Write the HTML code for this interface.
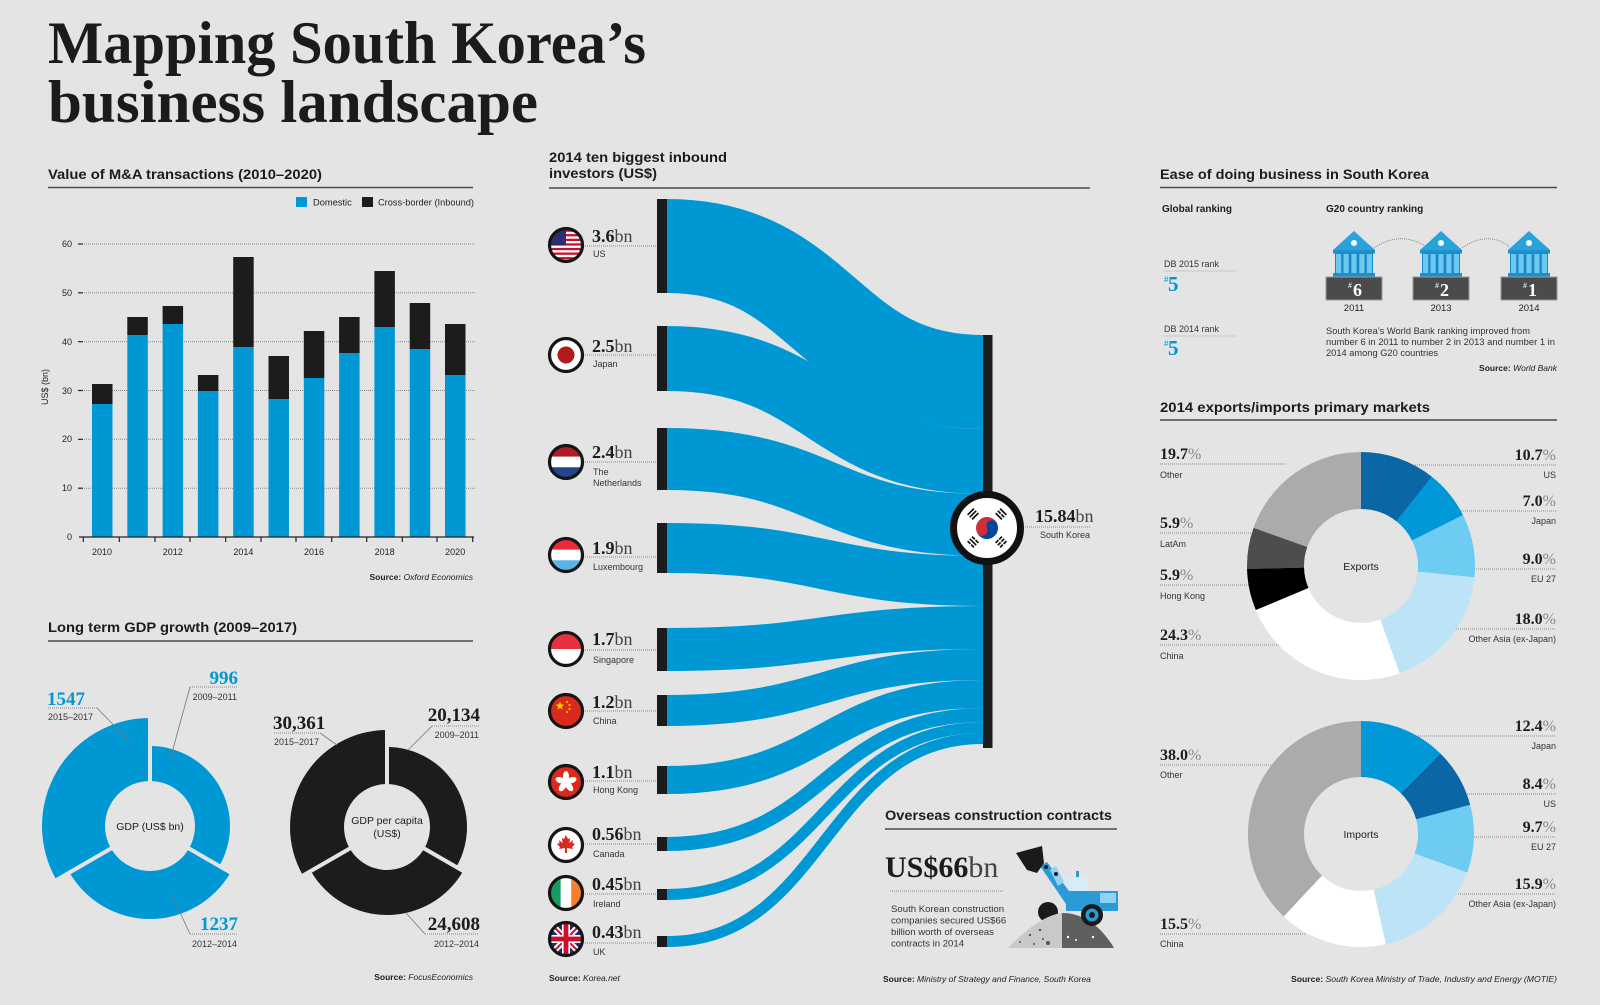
<!DOCTYPE html>
<html><head><meta charset="utf-8"><title>Mapping South Korea's business landscape</title>
<style>
html,body{margin:0;padding:0;background:#e4e4e4;}
svg{display:block;}
text{font-family:"Liberation Sans",Arial,sans-serif;}
.sf,.sf text,text.sf{font-family:"Liberation Serif","Times New Roman",serif;}
.h{font-weight:700;font-size:14px;fill:#1c1c1c;}
.s{font-size:9px;fill:#333;}
.src{font-size:8.5px;fill:#222;}
.dot{stroke:#8a8a8a;stroke-width:1;stroke-dasharray:1 1;fill:none;}
.ld{stroke:#777;stroke-width:0.8;fill:none;}
</style></head>
<body>
<svg xmlns="http://www.w3.org/2000/svg" width="1600" height="1005" viewBox="0 0 1600 1005">
<defs><clipPath id="fc"><circle cx="0" cy="0" r="15.5"/></clipPath></defs>
<rect width="1600" height="1005" fill="#e4e4e4"/>

<!-- TITLE -->
<text class="sf" x="48" y="63" font-size="60" font-weight="700" fill="#1b1b1b" textLength="598" lengthAdjust="spacingAndGlyphs">Mapping South Korea’s</text>
<text class="sf" x="48" y="122" font-size="60" font-weight="700" fill="#1b1b1b" textLength="490" lengthAdjust="spacingAndGlyphs">business landscape</text>

<!-- M&A -->
<text class="h" x="48" y="179" textLength="274" lengthAdjust="spacingAndGlyphs">Value of M&amp;A transactions (2010–2020)</text>
<line x1="48" y1="187.5" x2="473" y2="187.5" stroke="#4a4a4a" stroke-width="1.5"/>
<rect x="296" y="197" width="11" height="10" fill="#0098d4"/>
<text x="313" y="205.5" font-size="9.3" fill="#222">Domestic</text>
<rect x="362" y="197" width="11" height="10" fill="#1c1c1c"/>
<text x="378" y="205.5" font-size="9.3" fill="#222" textLength="96" lengthAdjust="spacingAndGlyphs">Cross-border (Inbound)</text>
<g stroke="#8a8a8a" stroke-width="1" stroke-dasharray="1 1">
<line x1="84" y1="244" x2="475" y2="244"/><line x1="84" y1="292.8" x2="475" y2="292.8"/><line x1="84" y1="341.7" x2="475" y2="341.7"/><line x1="84" y1="390.5" x2="475" y2="390.5"/><line x1="84" y1="439.3" x2="475" y2="439.3"/><line x1="84" y1="488.2" x2="475" y2="488.2"/>
</g>
<g stroke="#222" stroke-width="1.2">
<line x1="78" y1="244" x2="83" y2="244"/><line x1="78" y1="292.8" x2="83" y2="292.8"/><line x1="78" y1="341.7" x2="83" y2="341.7"/><line x1="78" y1="390.5" x2="83" y2="390.5"/><line x1="78" y1="439.3" x2="83" y2="439.3"/><line x1="78" y1="488.2" x2="83" y2="488.2"/>
</g>
<g font-size="9" fill="#222" text-anchor="end">
<text x="72" y="247">60</text><text x="72" y="296">50</text><text x="72" y="345">40</text><text x="72" y="394">30</text><text x="72" y="442">20</text><text x="72" y="491">10</text><text x="72" y="540">0</text>
</g>
<text transform="translate(48,387) rotate(-90)" text-anchor="middle" font-size="9" fill="#222">US$ (bn)</text>
<g fill="#0098d4">
<rect x="92" y="404" width="20.5" height="133"/>
<rect x="127.3" y="335" width="20.5" height="202"/>
<rect x="162.6" y="324" width="20.5" height="213"/>
<rect x="197.9" y="391" width="20.5" height="146"/>
<rect x="233.2" y="347" width="20.5" height="190"/>
<rect x="268.5" y="399" width="20.5" height="138"/>
<rect x="303.8" y="378" width="20.5" height="159"/>
<rect x="339.1" y="353" width="20.5" height="184"/>
<rect x="374.4" y="327" width="20.5" height="210"/>
<rect x="409.7" y="349" width="20.5" height="188"/>
<rect x="445" y="375" width="20.5" height="162"/>
</g>
<g fill="#1c1c1c">
<rect x="92" y="384" width="20.5" height="20"/>
<rect x="127.3" y="317" width="20.5" height="18"/>
<rect x="162.6" y="306" width="20.5" height="18"/>
<rect x="197.9" y="375" width="20.5" height="16"/>
<rect x="233.2" y="257" width="20.5" height="90"/>
<rect x="268.5" y="356" width="20.5" height="43"/>
<rect x="303.8" y="331" width="20.5" height="47"/>
<rect x="339.1" y="317" width="20.5" height="36"/>
<rect x="374.4" y="271" width="20.5" height="56"/>
<rect x="409.7" y="303" width="20.5" height="46"/>
<rect x="445" y="324" width="20.5" height="51"/>
</g>
<line x1="79" y1="537" x2="474" y2="537" stroke="#222" stroke-width="1.2"/>
<g stroke="#222" stroke-width="1.2">
<line x1="83.3" y1="537" x2="83.3" y2="542"/><line x1="119.3" y1="537" x2="119.3" y2="542"/><line x1="155" y1="537" x2="155" y2="542"/><line x1="190" y1="537" x2="190" y2="542"/><line x1="225.7" y1="537" x2="225.7" y2="542"/><line x1="261" y1="537" x2="261" y2="542"/><line x1="296" y1="537" x2="296" y2="542"/><line x1="331.7" y1="537" x2="331.7" y2="542"/><line x1="366.7" y1="537" x2="366.7" y2="542"/><line x1="402.3" y1="537" x2="402.3" y2="542"/><line x1="437" y1="537" x2="437" y2="542"/><line x1="472.7" y1="537" x2="472.7" y2="542"/>
</g>
<g font-size="9" fill="#222" text-anchor="middle">
<text x="102" y="555">2010</text><text x="172.8" y="555">2012</text><text x="243.4" y="555">2014</text><text x="314" y="555">2016</text><text x="384.6" y="555">2018</text><text x="455.2" y="555">2020</text>
</g>
<text class="src" x="473" y="580" text-anchor="end"><tspan font-weight="700">Source:</tspan> <tspan font-style="italic">Oxford Economics</tspan></text>

<!-- GDP -->
<text class="h" x="48" y="632" textLength="249" lengthAdjust="spacingAndGlyphs">Long term GDP growth (2009–2017)</text>
<line x1="48" y1="641" x2="473" y2="641" stroke="#4a4a4a" stroke-width="1.5"/>
<g fill="#0098d4">
<path d="M150,826 L150,746 A80,80 0 0 1 219.28,866 Z"/>
<path d="M150,826 L230.54,872.5 A93,93 0 0 1 69.46,872.5 Z"/>
<path d="M150,826 L56.47,880 A108,108 0 0 1 150,718 Z"/>
</g>
<g stroke="#e4e4e4" stroke-width="4">
<line x1="150" y1="826" x2="150" y2="700"/><line x1="150" y1="826" x2="253.9" y2="886"/><line x1="150" y1="826" x2="46.1" y2="886"/>
</g>
<circle cx="150" cy="826" r="45" fill="#e4e4e4"/>
<text x="150" y="830" text-anchor="middle" font-size="10.5" fill="#1c1c1c">GDP (US$ bn)</text>
<g fill="#1c1c1c">
<path d="M387,827 L387,747 A80,80 0 0 1 456.28,867 Z"/>
<path d="M387,827 L463.21,871 A88,88 0 0 1 310.79,871 Z"/>
<path d="M387,827 L303,875.5 A97,97 0 0 1 387,730 Z"/>
</g>
<g stroke="#e4e4e4" stroke-width="4">
<line x1="387" y1="827" x2="387" y2="707"/><line x1="387" y1="827" x2="490.9" y2="887"/><line x1="387" y1="827" x2="283.1" y2="887"/>
</g>
<circle cx="387" cy="827" r="43" fill="#e4e4e4"/>
<text x="387" y="824" text-anchor="middle" font-size="10.5" fill="#1c1c1c">GDP per capita</text>
<text x="387" y="837" text-anchor="middle" font-size="10.5" fill="#1c1c1c">(US$)</text>
<line class="dot" x1="48" y1="708" x2="97" y2="708"/><line class="ld" x1="97" y1="708" x2="130" y2="742"/>
<line class="dot" x1="190" y1="687" x2="238" y2="687"/><line class="ld" x1="190" y1="687" x2="170" y2="760"/>
<line class="dot" x1="190" y1="934" x2="238" y2="934"/><line class="ld" x1="190" y1="934" x2="172" y2="895"/>
<line class="dot" x1="274" y1="733" x2="320" y2="733"/><line class="ld" x1="320" y1="733" x2="337" y2="745"/>
<line class="dot" x1="432" y1="726" x2="479" y2="726"/><line class="ld" x1="432" y1="726" x2="408" y2="750"/>
<line class="dot" x1="425" y1="934" x2="479" y2="934"/><line class="ld" x1="425" y1="934" x2="406" y2="913"/>
<g class="sf" font-size="19" font-weight="700">
<text x="47" y="705" fill="#0098d4">1547</text>
<text x="238" y="684" fill="#0098d4" text-anchor="end">996</text>
<text x="238" y="930" fill="#0098d4" text-anchor="end">1237</text>
<text x="273" y="729" fill="#1c1c1c">30,361</text>
<text x="480" y="721" fill="#1c1c1c" text-anchor="end">20,134</text>
<text x="480" y="930" fill="#1c1c1c" text-anchor="end">24,608</text>
</g>
<g class="s">
<text x="48" y="720">2015–2017</text>
<text x="237" y="700" text-anchor="end">2009–2011</text>
<text x="237" y="947" text-anchor="end">2012–2014</text>
<text x="274" y="745">2015–2017</text>
<text x="479" y="738" text-anchor="end">2009–2011</text>
<text x="479" y="947" text-anchor="end">2012–2014</text>
</g>
<text class="src" x="473" y="980" text-anchor="end"><tspan font-weight="700">Source:</tspan> <tspan font-style="italic">FocusEconomics</tspan></text>

<!-- SANKEY -->
<text class="h" x="549" y="162" textLength="178" lengthAdjust="spacingAndGlyphs">2014 ten biggest inbound</text>
<text class="h" x="549" y="178" textLength="108" lengthAdjust="spacingAndGlyphs">investors (US$)</text>
<line x1="549" y1="188" x2="1090" y2="188" stroke="#4a4a4a" stroke-width="1.5"/>
<g fill="none" stroke="#0098d4">
<path d="M667,246 C825,246 825,382 983,382" stroke-width="94"/>
<path d="M667,358.5 C825,358.5 825,461.5 983,461.5" stroke-width="65"/>
<path d="M667,459 C825,459 825,525 983,525" stroke-width="62"/>
<path d="M667,548 C825,548 825,581 983,581" stroke-width="50"/>
<path d="M667,649.5 C825,649.5 825,627.5 983,627.5" stroke-width="43"/>
<path d="M667,710.5 C825,710.5 825,664.5 983,664.5" stroke-width="31"/>
<path d="M667,780 C825,780 825,694 983,694" stroke-width="28"/>
<path d="M667,844 C825,844 825,715 983,715" stroke-width="14"/>
<path d="M667,894.5 C825,894.5 825,727.5 983,727.5" stroke-width="11"/>
<path d="M667,941.5 C825,941.5 825,738.5 983,738.5" stroke-width="11"/>
</g>
<g fill="#1c1c1c">
<rect x="657" y="199" width="10" height="94"/>
<rect x="657" y="326" width="10" height="65"/>
<rect x="657" y="428" width="10" height="62"/>
<rect x="657" y="523" width="10" height="50"/>
<rect x="657" y="628" width="10" height="43"/>
<rect x="657" y="695" width="10" height="31"/>
<rect x="657" y="766" width="10" height="28"/>
<rect x="657" y="837" width="10" height="14"/>
<rect x="657" y="889" width="10" height="11"/>
<rect x="657" y="936" width="10" height="11"/>
<rect x="983" y="335" width="9.5" height="413"/>
</g>
<g class="dot">
<line x1="583" y1="246" x2="657" y2="246"/><line x1="583" y1="355" x2="657" y2="355"/><line x1="583" y1="462" x2="657" y2="462"/><line x1="583" y1="557" x2="657" y2="557"/><line x1="583" y1="650" x2="657" y2="650"/><line x1="583" y1="711" x2="657" y2="711"/><line x1="583" y1="781" x2="657" y2="781"/><line x1="583" y1="844" x2="657" y2="844"/><line x1="583" y1="894" x2="657" y2="894"/><line x1="583" y1="943" x2="657" y2="943"/>
<line x1="1025" y1="527" x2="1091" y2="527"/>
</g>
<g transform="translate(566,245)"><g clip-path="url(#fc)"><rect x="-16" y="-16" width="32" height="32" fill="#fff"/>
<g fill="#c8102e"><rect x="-16" y="-15.5" width="32" height="2.3"/><rect x="-16" y="-10.9" width="32" height="2.3"/><rect x="-16" y="-6.3" width="32" height="2.3"/><rect x="-16" y="-1.7" width="32" height="2.3"/><rect x="-16" y="2.9" width="32" height="2.3"/><rect x="-16" y="7.5" width="32" height="2.3"/><rect x="-16" y="12.1" width="32" height="2.3"/></g>
<rect x="-16" y="-16" width="16" height="16.5" fill="#2b2f6e"/></g><circle r="16.5" fill="none" stroke="#151515" stroke-width="3.2"/></g>
<g transform="translate(566,355)"><g clip-path="url(#fc)"><rect x="-16" y="-16" width="32" height="32" fill="#fff"/><circle r="8.5" fill="#b31b1b"/></g><circle r="16.5" fill="none" stroke="#151515" stroke-width="3.2"/></g>
<g transform="translate(566,462)"><g clip-path="url(#fc)"><rect x="-16" y="-16" width="32" height="10.7" fill="#ae1c28"/><rect x="-16" y="-5.3" width="32" height="10.6" fill="#fff"/><rect x="-16" y="5.3" width="32" height="10.7" fill="#21468b"/></g><circle r="16.5" fill="none" stroke="#151515" stroke-width="3.2"/></g>
<g transform="translate(566,555)"><g clip-path="url(#fc)"><rect x="-16" y="-16" width="32" height="10.7" fill="#ed2939"/><rect x="-16" y="-5.3" width="32" height="10.6" fill="#fff"/><rect x="-16" y="5.3" width="32" height="10.7" fill="#5ab4e5"/></g><circle r="16.5" fill="none" stroke="#151515" stroke-width="3.2"/></g>
<g transform="translate(566,649)"><g clip-path="url(#fc)"><rect x="-16" y="-16" width="32" height="16" fill="#e8313e"/><rect x="-16" y="0" width="32" height="16" fill="#fff"/></g><circle r="16.5" fill="none" stroke="#151515" stroke-width="3.2"/></g>
<g transform="translate(566,711)"><g clip-path="url(#fc)"><rect x="-16" y="-16" width="32" height="32" fill="#d92a1c"/>
<polygon transform="translate(-6,-5)" fill="#ffde00" points="0,-4.5 1.06,-1.46 4.28,-1.39 1.71,0.56 2.65,3.64 0,1.8 -2.65,3.64 -1.71,0.56 -4.28,-1.39 -1.06,-1.46"/>
<g fill="#ffde00"><circle cx="1" cy="-9" r="1"/><circle cx="3.5" cy="-6" r="1"/><circle cx="3.5" cy="-2" r="1"/><circle cx="1" cy="1" r="1"/></g></g><circle r="16.5" fill="none" stroke="#151515" stroke-width="3.2"/></g>
<g transform="translate(566,782)"><g clip-path="url(#fc)"><rect x="-16" y="-16" width="32" height="32" fill="#d92a1c"/>
<g fill="#fff"><ellipse cx="0" cy="-5.5" rx="3" ry="5.5"/><ellipse cx="0" cy="-5.5" rx="3" ry="5.5" transform="rotate(72)"/><ellipse cx="0" cy="-5.5" rx="3" ry="5.5" transform="rotate(144)"/><ellipse cx="0" cy="-5.5" rx="3" ry="5.5" transform="rotate(216)"/><ellipse cx="0" cy="-5.5" rx="3" ry="5.5" transform="rotate(288)"/></g></g><circle r="16.5" fill="none" stroke="#151515" stroke-width="3.2"/></g>
<g transform="translate(566,845)"><g clip-path="url(#fc)"><rect x="-16" y="-16" width="32" height="32" fill="#fff"/>
<polygon fill="#d52b1e" points="0,-10 2,-6 4,-7 3.5,-2 7,-5 6.5,-2 9,-1 6,2 7,4 1,3 1,8 -1,8 -1,3 -7,4 -6,2 -9,-1 -6.5,-2 -7,-5 -3.5,-2 -4,-7 -2,-6"/></g><circle r="16.5" fill="none" stroke="#151515" stroke-width="3.2"/></g>
<g transform="translate(566,893)"><g clip-path="url(#fc)"><rect x="-16" y="-16" width="10.7" height="32" fill="#169b62"/><rect x="-5.3" y="-16" width="10.6" height="32" fill="#fff"/><rect x="5.3" y="-16" width="10.7" height="32" fill="#f77f2a"/></g><circle r="16.5" fill="none" stroke="#151515" stroke-width="3.2"/></g>
<g transform="translate(566,939)"><g clip-path="url(#fc)"><rect x="-16" y="-16" width="32" height="32" fill="#1f2f6e"/>
<line x1="-16" y1="-16" x2="16" y2="16" stroke="#fff" stroke-width="6"/><line x1="16" y1="-16" x2="-16" y2="16" stroke="#fff" stroke-width="6"/>
<line x1="-16" y1="-16" x2="16" y2="16" stroke="#c8102e" stroke-width="2"/><line x1="16" y1="-16" x2="-16" y2="16" stroke="#c8102e" stroke-width="2"/>
<rect x="-4" y="-16" width="8" height="32" fill="#fff"/><rect x="-16" y="-4" width="32" height="8" fill="#fff"/>
<rect x="-2.4" y="-16" width="4.8" height="32" fill="#c8102e"/><rect x="-16" y="-2.4" width="32" height="4.8" fill="#c8102e"/></g><circle r="16.5" fill="none" stroke="#151515" stroke-width="3.2"/></g>
<g class="sf" font-size="18" fill="#1c1c1c">
<text x="592" y="242"><tspan font-weight="700">3.6</tspan><tspan fill="#444">bn</tspan></text>
<text x="592" y="352"><tspan font-weight="700">2.5</tspan><tspan fill="#444">bn</tspan></text>
<text x="592" y="458"><tspan font-weight="700">2.4</tspan><tspan fill="#444">bn</tspan></text>
<text x="592" y="554"><tspan font-weight="700">1.9</tspan><tspan fill="#444">bn</tspan></text>
<text x="592" y="645"><tspan font-weight="700">1.7</tspan><tspan fill="#444">bn</tspan></text>
<text x="592" y="708"><tspan font-weight="700">1.2</tspan><tspan fill="#444">bn</tspan></text>
<text x="592" y="778"><tspan font-weight="700">1.1</tspan><tspan fill="#444">bn</tspan></text>
<text x="592" y="840"><tspan font-weight="700">0.56</tspan><tspan fill="#444">bn</tspan></text>
<text x="592" y="890"><tspan font-weight="700">0.45</tspan><tspan fill="#444">bn</tspan></text>
<text x="592" y="938"><tspan font-weight="700">0.43</tspan><tspan fill="#444">bn</tspan></text>
<text x="1035" y="522"><tspan font-weight="700">15.84</tspan><tspan fill="#444">bn</tspan></text>
</g>
<g class="s">
<text x="593" y="257">US</text>
<text x="593" y="367">Japan</text>
<text x="593" y="475">The</text>
<text x="593" y="486">Netherlands</text>
<text x="593" y="570">Luxembourg</text>
<text x="593" y="663">Singapore</text>
<text x="593" y="724">China</text>
<text x="593" y="793">Hong Kong</text>
<text x="593" y="857">Canada</text>
<text x="593" y="907">Ireland</text>
<text x="593" y="955">UK</text>
<text x="1040" y="538">South Korea</text>
</g>
<g transform="translate(987,528)">
<circle r="33.5" fill="#fff" stroke="#111" stroke-width="7"/>
<g transform="rotate(-25)">
<path d="M-11,0 A11,11 0 0 1 11,0 Z" fill="#cd2e3a"/>
<path d="M-11,0 A11,11 0 0 0 11,0 Z" fill="#0047a0"/>
<circle cx="-5.5" cy="0" r="5.5" fill="#cd2e3a"/>
<circle cx="5.5" cy="0" r="5.5" fill="#0047a0"/>
</g>
<g fill="#111">
<g transform="translate(-14,-14) rotate(-45)"><rect x="-4.5" y="-4" width="9" height="1.7"/><rect x="-4.5" y="-0.85" width="9" height="1.7"/><rect x="-4.5" y="2.3" width="9" height="1.7"/></g>
<g transform="translate(14,-14) rotate(45)"><rect x="-4.5" y="-4" width="9" height="1.7"/><rect x="-4.5" y="-0.85" width="4" height="1.7"/><rect x="0.5" y="-0.85" width="4" height="1.7"/><rect x="-4.5" y="2.3" width="9" height="1.7"/></g>
<g transform="translate(-14,14) rotate(45)"><rect x="-4.5" y="-4" width="4" height="1.7"/><rect x="0.5" y="-4" width="4" height="1.7"/><rect x="-4.5" y="-0.85" width="9" height="1.7"/><rect x="-4.5" y="2.3" width="4" height="1.7"/><rect x="0.5" y="2.3" width="4" height="1.7"/></g>
<g transform="translate(14,14) rotate(-45)"><rect x="-4.5" y="-4" width="4" height="1.7"/><rect x="0.5" y="-4" width="4" height="1.7"/><rect x="-4.5" y="-0.85" width="4" height="1.7"/><rect x="0.5" y="-0.85" width="4" height="1.7"/><rect x="-4.5" y="2.3" width="4" height="1.7"/><rect x="0.5" y="2.3" width="4" height="1.7"/></g>
</g>
</g>
<text class="src" x="549" y="981"><tspan font-weight="700">Source:</tspan> <tspan font-style="italic">Korea.net</tspan></text>

<!-- CONSTRUCTION -->
<text class="h" x="885" y="820" textLength="227" lengthAdjust="spacingAndGlyphs">Overseas construction contracts</text>
<line x1="885" y1="829" x2="1117" y2="829" stroke="#4a4a4a" stroke-width="1.5"/>
<text class="sf" x="885" y="877" font-size="30" fill="#1c1c1c"><tspan font-weight="700">US$66</tspan><tspan fill="#444">bn</tspan></text>
<line class="dot" x1="890" y1="891" x2="1004" y2="891"/>
<g font-size="9.6" fill="#333">
<text x="891" y="912">South Korean construction</text>
<text x="891" y="923.5">companies secured US$66</text>
<text x="891" y="935">billion worth of overseas</text>
<text x="891" y="946.5">contracts in 2014</text>
</g>
<circle cx="1048" cy="912" r="10" fill="#1a1a1a"/>
<path d="M1008,948 C1025,930 1045,915 1062,913 L1062,948 Z" fill="#c9c9c9"/>
<path d="M1062,913 C1085,913 1102,928 1114,948 L1062,948 Z" fill="#5f5f5f"/>
<g fill="#555"><circle cx="1020" cy="942" r="1"/><circle cx="1030" cy="935" r="1.2"/><circle cx="1034" cy="944" r="1"/><circle cx="1040" cy="930" r="1.2"/><circle cx="1048" cy="943" r="2"/><circle cx="1043" cy="939" r="1"/></g>
<g fill="#fff"><circle cx="1068" cy="937" r="1.2"/><circle cx="1076" cy="940" r="1"/><circle cx="1093" cy="937" r="1.2"/></g>
<rect x="1066" y="877" width="22" height="15" fill="#d6ecf8"/>
<rect x="1076" y="871" width="3" height="6" fill="#2a9bd6"/>
<rect x="1066" y="891" width="52" height="20" fill="#2a9bd6"/>
<rect x="1100" y="893" width="16" height="10" fill="#8fd3f4"/>
<polygon points="1040,866 1047,862 1072,895 1066,904" fill="#2a9bd6"/>
<polygon points="1050,870 1056,866 1064,882 1058,886" fill="#8fd3f4"/>
<circle cx="1046" cy="867" r="2" fill="#1a1a1a"/><circle cx="1056" cy="874" r="2" fill="#1a1a1a"/>
<polygon points="1016,853 1042,846 1044,863 1037,873 1027,870" fill="#1a1a1a"/>
<circle cx="1092" cy="915" r="11" fill="#1a1a1a"/><circle cx="1092" cy="915" r="6.5" fill="#2a9bd6"/><circle cx="1092" cy="915" r="3" fill="#1a1a1a"/>
<text class="src" x="883" y="982"><tspan font-weight="700">Source:</tspan> <tspan font-style="italic">Ministry of Strategy and Finance, South Korea</tspan></text>

<!-- EASE OF DOING BUSINESS -->
<text class="h" x="1160" y="179" textLength="269" lengthAdjust="spacingAndGlyphs">Ease of doing business in South Korea</text>
<line x1="1160" y1="187.5" x2="1557" y2="187.5" stroke="#4a4a4a" stroke-width="1.5"/>
<text x="1162" y="212" font-size="10" font-weight="700" fill="#1c1c1c">Global ranking</text>
<text x="1326" y="212" font-size="10" font-weight="700" fill="#1c1c1c">G20 country ranking</text>
<text class="s" x="1164" y="267">DB 2015 rank</text>
<line x1="1163" y1="271" x2="1236" y2="271" stroke="#c8c8c8" stroke-width="1"/>
<text x="1164" y="282" font-size="8" fill="#0098d4">#</text>
<text class="sf" x="1168" y="291" font-size="21" font-weight="700" fill="#0098d4">5</text>
<text class="s" x="1164" y="332">DB 2014 rank</text>
<line x1="1163" y1="336" x2="1236" y2="336" stroke="#c8c8c8" stroke-width="1"/>
<text x="1164" y="346" font-size="8" fill="#0098d4">#</text>
<text class="sf" x="1168" y="355" font-size="21" font-weight="700" fill="#0098d4">5</text>
<path d="M1374,248 Q1400,230 1427,247" fill="none" stroke="#888" stroke-width="1" stroke-dasharray="1 1"/>
<path d="M1462,248 Q1488,230 1510,247" fill="none" stroke="#888" stroke-width="1" stroke-dasharray="1 1"/>
<g transform="translate(1354,0)">
<polygon points="0,231 -21,250 21,250" fill="#29a3dc"/><circle cx="0" cy="243" r="3" fill="#fff"/>
<rect x="-21" y="250" width="42" height="3.5" fill="#1f8fcc"/><rect x="-19" y="253.5" width="38" height="19.5" fill="#1a86c4"/>
<g fill="#6cc8f0"><rect x="-18" y="254" width="5.2" height="19"/><rect x="-10.5" y="254" width="5.2" height="19"/><rect x="-2.6" y="254" width="5.2" height="19"/><rect x="5.3" y="254" width="5.2" height="19"/><rect x="12.8" y="254" width="5.2" height="19"/></g>
<rect x="-21" y="273" width="42" height="4" fill="#1f8fcc"/>
<rect x="-28" y="277" width="56" height="23" fill="#4b4b4b" stroke="#9a9a9a" stroke-width="1"/>
<text x="-6" y="288" font-size="8" fill="#fff" class="sf">#</text><text class="sf" x="-1" y="296" font-size="18" font-weight="700" fill="#fff">6</text>
<text x="0" y="311" text-anchor="middle" font-size="9.5" fill="#222">2011</text>
</g>
<g transform="translate(1441,0)">
<polygon points="0,231 -21,250 21,250" fill="#29a3dc"/><circle cx="0" cy="243" r="3" fill="#fff"/>
<rect x="-21" y="250" width="42" height="3.5" fill="#1f8fcc"/><rect x="-19" y="253.5" width="38" height="19.5" fill="#1a86c4"/>
<g fill="#6cc8f0"><rect x="-18" y="254" width="5.2" height="19"/><rect x="-10.5" y="254" width="5.2" height="19"/><rect x="-2.6" y="254" width="5.2" height="19"/><rect x="5.3" y="254" width="5.2" height="19"/><rect x="12.8" y="254" width="5.2" height="19"/></g>
<rect x="-21" y="273" width="42" height="4" fill="#1f8fcc"/>
<rect x="-28" y="277" width="56" height="23" fill="#4b4b4b" stroke="#9a9a9a" stroke-width="1"/>
<text x="-6" y="288" font-size="8" fill="#fff" class="sf">#</text><text class="sf" x="-1" y="296" font-size="18" font-weight="700" fill="#fff">2</text>
<text x="0" y="311" text-anchor="middle" font-size="9.5" fill="#222">2013</text>
</g>
<g transform="translate(1529,0)">
<polygon points="0,231 -21,250 21,250" fill="#29a3dc"/><circle cx="0" cy="243" r="3" fill="#fff"/>
<rect x="-21" y="250" width="42" height="3.5" fill="#1f8fcc"/><rect x="-19" y="253.5" width="38" height="19.5" fill="#1a86c4"/>
<g fill="#6cc8f0"><rect x="-18" y="254" width="5.2" height="19"/><rect x="-10.5" y="254" width="5.2" height="19"/><rect x="-2.6" y="254" width="5.2" height="19"/><rect x="5.3" y="254" width="5.2" height="19"/><rect x="12.8" y="254" width="5.2" height="19"/></g>
<rect x="-21" y="273" width="42" height="4" fill="#1f8fcc"/>
<rect x="-28" y="277" width="56" height="23" fill="#4b4b4b" stroke="#9a9a9a" stroke-width="1"/>
<text x="-6" y="288" font-size="8" fill="#fff" class="sf">#</text><text class="sf" x="-1" y="296" font-size="18" font-weight="700" fill="#fff">1</text>
<text x="0" y="311" text-anchor="middle" font-size="9.5" fill="#222">2014</text>
</g>
<g font-size="9.3" fill="#333">
<text x="1326" y="334" textLength="204" lengthAdjust="spacingAndGlyphs">South Korea’s World Bank ranking improved from</text>
<text x="1326" y="345" textLength="229" lengthAdjust="spacingAndGlyphs">number 6 in 2011 to number 2 in 2013 and number 1 in</text>
<text x="1326" y="356" textLength="112" lengthAdjust="spacingAndGlyphs">2014 among G20 countries</text>
</g>
<text class="src" x="1557" y="371" text-anchor="end"><tspan font-weight="700">Source:</tspan> <tspan font-style="italic">World Bank</tspan></text>

<!-- EXPORTS / IMPORTS -->
<text class="h" x="1160" y="412" textLength="270" lengthAdjust="spacingAndGlyphs">2014 exports/imports primary markets</text>
<line x1="1160" y1="420" x2="1557" y2="420" stroke="#4a4a4a" stroke-width="1.5"/>
<g class="dot">
<line x1="1160" y1="464" x2="1285" y2="464"/><line x1="1160" y1="533" x2="1255" y2="533"/><line x1="1160" y1="585" x2="1255" y2="585"/><line x1="1160" y1="645" x2="1282" y2="645"/>
<line x1="1415" y1="465" x2="1556" y2="465"/><line x1="1455" y1="511" x2="1556" y2="511"/><line x1="1468" y1="569" x2="1556" y2="569"/><line x1="1452" y1="629" x2="1556" y2="629"/>
<line x1="1160" y1="765" x2="1272" y2="765"/><line x1="1160" y1="934" x2="1305" y2="934"/>
<line x1="1418" y1="736" x2="1556" y2="736"/><line x1="1465" y1="794" x2="1556" y2="794"/><line x1="1472" y1="837" x2="1556" y2="837"/><line x1="1458" y1="894" x2="1556" y2="894"/>
</g>
<g transform="rotate(-90 1361 566)" fill="none" stroke-width="57">
<circle cx="1361" cy="566" r="85.5" stroke="#0b66a6" stroke-dasharray="57.4 600" stroke-dashoffset="0"/>
<circle cx="1361" cy="566" r="85.5" stroke="#0198d8" stroke-dasharray="37.6 600" stroke-dashoffset="-57.20"/>
<circle cx="1361" cy="566" r="85.5" stroke="#6ecbf2" stroke-dasharray="48.3 600" stroke-dashoffset="-94.61"/>
<circle cx="1361" cy="566" r="85.5" stroke="#bde3f6" stroke-dasharray="96.4 600" stroke-dashoffset="-142.72"/>
<circle cx="1361" cy="566" r="85.5" stroke="#ffffff" stroke-dasharray="130.1 600" stroke-dashoffset="-238.94"/>
<circle cx="1361" cy="566" r="85.5" stroke="#000000" stroke-dasharray="31.7 600" stroke-dashoffset="-368.83"/>
<circle cx="1361" cy="566" r="85.5" stroke="#4d4d4d" stroke-dasharray="31.7 600" stroke-dashoffset="-400.37"/>
<circle cx="1361" cy="566" r="85.5" stroke="#ababab" stroke-dasharray="105.3 600" stroke-dashoffset="-431.91"/>
</g>
<text x="1361" y="570" text-anchor="middle" font-size="10.5" fill="#1c1c1c">Exports</text>
<g transform="rotate(-90 1361 834)" fill="none" stroke-width="56">
<circle cx="1361" cy="834" r="85" stroke="#0198d8" stroke-dasharray="66.5 600" stroke-dashoffset="0"/>
<circle cx="1361" cy="834" r="85" stroke="#0b66a6" stroke-dasharray="45.1 600" stroke-dashoffset="-66.29"/>
<circle cx="1361" cy="834" r="85" stroke="#6ecbf2" stroke-dasharray="52.1 600" stroke-dashoffset="-111.20"/>
<circle cx="1361" cy="834" r="85" stroke="#bde3f6" stroke-dasharray="85.2 600" stroke-dashoffset="-163.06"/>
<circle cx="1361" cy="834" r="85" stroke="#ffffff" stroke-dasharray="83.1 600" stroke-dashoffset="-248.06"/>
<circle cx="1361" cy="834" r="85" stroke="#ababab" stroke-dasharray="203.2 600" stroke-dashoffset="-330.92"/>
</g>
<text x="1361" y="838" text-anchor="middle" font-size="10.5" fill="#1c1c1c">Imports</text>
<g class="sf" font-size="16" fill="#1c1c1c">
<text x="1160" y="459"><tspan font-weight="700">19.7</tspan><tspan fill="#888">%</tspan></text>
<text x="1160" y="528"><tspan font-weight="700">5.9</tspan><tspan fill="#888">%</tspan></text>
<text x="1160" y="580"><tspan font-weight="700">5.9</tspan><tspan fill="#888">%</tspan></text>
<text x="1160" y="640"><tspan font-weight="700">24.3</tspan><tspan fill="#888">%</tspan></text>
<text x="1556" y="460" text-anchor="end"><tspan font-weight="700">10.7</tspan><tspan fill="#888">%</tspan></text>
<text x="1556" y="506" text-anchor="end"><tspan font-weight="700">7.0</tspan><tspan fill="#888">%</tspan></text>
<text x="1556" y="564" text-anchor="end"><tspan font-weight="700">9.0</tspan><tspan fill="#888">%</tspan></text>
<text x="1556" y="624" text-anchor="end"><tspan font-weight="700">18.0</tspan><tspan fill="#888">%</tspan></text>
<text x="1160" y="760"><tspan font-weight="700">38.0</tspan><tspan fill="#888">%</tspan></text>
<text x="1160" y="929"><tspan font-weight="700">15.5</tspan><tspan fill="#888">%</tspan></text>
<text x="1556" y="731" text-anchor="end"><tspan font-weight="700">12.4</tspan><tspan fill="#888">%</tspan></text>
<text x="1556" y="789" text-anchor="end"><tspan font-weight="700">8.4</tspan><tspan fill="#888">%</tspan></text>
<text x="1556" y="832" text-anchor="end"><tspan font-weight="700">9.7</tspan><tspan fill="#888">%</tspan></text>
<text x="1556" y="889" text-anchor="end"><tspan font-weight="700">15.9</tspan><tspan fill="#888">%</tspan></text>
</g>
<g class="s">
<text x="1160" y="478">Other</text>
<text x="1160" y="547">LatAm</text>
<text x="1160" y="599">Hong Kong</text>
<text x="1160" y="659">China</text>
<text x="1556" y="478" text-anchor="end">US</text>
<text x="1556" y="524" text-anchor="end">Japan</text>
<text x="1556" y="582" text-anchor="end">EU 27</text>
<text x="1556" y="642" text-anchor="end">Other Asia (ex-Japan)</text>
<text x="1160" y="778">Other</text>
<text x="1160" y="947">China</text>
<text x="1556" y="749" text-anchor="end">Japan</text>
<text x="1556" y="807" text-anchor="end">US</text>
<text x="1556" y="850" text-anchor="end">EU 27</text>
<text x="1556" y="907" text-anchor="end">Other Asia (ex-Japan)</text>
</g>
<text class="src" x="1557" y="982" text-anchor="end" textLength="266" lengthAdjust="spacingAndGlyphs"><tspan font-weight="700">Source:</tspan> <tspan font-style="italic">South Korea Ministry of Trade, Industry and Energy (MOTIE)</tspan></text>
</svg>
</body></html>
